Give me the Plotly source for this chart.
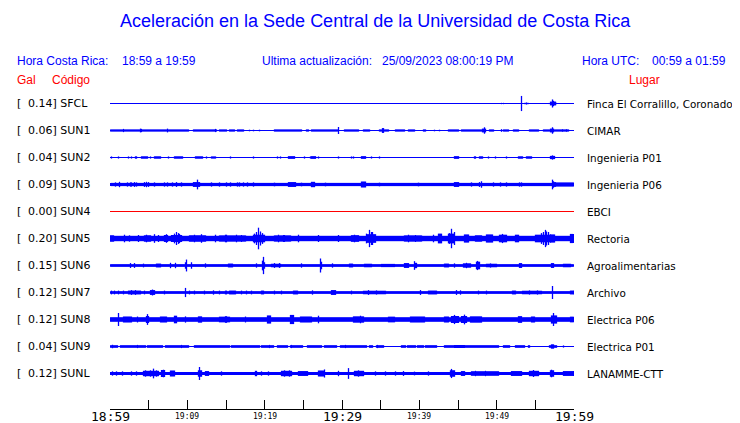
import plotly.graph_objects as go

# ---------------- data ----------------
stations = ["SFCL", "SUN1", "SUN2", "SUN3", "SUN4", "SUN5", "SUN6", "SUN7", "SUN8", "SUN9", "SUNL"]
peak_gal = ["0.14", "0.06", "0.04", "0.09", "0.00", "0.20", "0.15", "0.12", "0.12", "0.04", "0.12"]
places = ["Finca El Corralillo, Coronado", "CIMAR", "Ingenieria P01", "Ingenieria P06", "EBCI",
          "Rectoria", "Agroalimentarias", "Archivo", "Electrica P06", "Electrica P01", "LANAMME-CTT"]

tick_minutes = [0, 5, 10, 15, 20, 25, 30, 35, 40, 45, 50, 55, 60]
label_minutes = [0, 10, 20, 30, 40, 50, 60]
label_text = ["18:59", "19:09", "19:19", "19:29", "19:39", "19:49", "19:59"]
label_big = [True, False, False, True, False, False, True]

# amplitude envelopes: [start minute, end minute, half amplitude (gal)]
sfcl_events = [
    [50.6, 50.6, 0.012], [50.9, 50.9, 0.012], [51.7, 51.7, 0.008],
    [53.2, 53.2, 0.14], [53.6, 54.1, 0.012], [53.9, 53.9, 0.02],
    [56.7, 56.7, 0.01], [57.0, 57.6, 0.035], [57.2, 57.2, 0.075], [57.35, 57.35, 0.05], [57.8, 57.8, 0.012],
]
sun1_events = [
    [0.0, 10.1, 0.02], [10.8, 13.8, 0.02], [14.2, 15.0, 0.02], [15.5, 16.1, 0.02], [16.5, 17.2, 0.02],
    [18.0, 18.0, 0.015], [18.6, 18.6, 0.015], [19.3, 19.3, 0.015], [21.3, 24.8, 0.02], [25.4, 25.7, 0.02],
    [26.0, 29.5, 0.02], [30.3, 32.1, 0.02], [32.8, 33.6, 0.02], [34.8, 36.0, 0.02], [36.9, 38.1, 0.02],
    [38.6, 39.4, 0.02], [40.5, 40.8, 0.02], [42.0, 42.0, 0.015], [42.6, 42.6, 0.015], [43.8, 45.0, 0.02],
    [45.4, 48.5, 0.02], [49.1, 49.6, 0.02], [50.9, 51.5, 0.02], [52.2, 52.8, 0.02], [54.3, 55.4, 0.02],
    [56.0, 59.3, 0.02],
    [1.8, 1.8, 0.03], [3.9, 3.9, 0.035], [4.0, 4.1, 0.03], [7.5, 7.5, 0.035], [13.6, 13.6, 0.03],
    [29.5, 29.5, 0.065], [35.2, 35.4, 0.045], [48.4, 48.4, 0.06], [48.2, 48.6, 0.035], [50.6, 50.6, 0.025],
    [57.2, 57.2, 0.06], [57.0, 57.4, 0.035], [58.5, 58.5, 0.025], [59.0, 59.0, 0.025],
]
sun2_events = [
    [0.13, 0.13, 0.02], [1.08, 1.08, 0.02], [2.37, 2.37, 0.02], [2.8, 2.8, 0.02], [3.3, 3.4, 0.022],
    [4.1, 4.9, 0.022], [5.3, 5.3, 0.02], [5.7, 6.5, 0.022], [7.6, 7.6, 0.02], [8.4, 9.35, 0.022],
    [11.0, 11.9, 0.022], [12.5, 12.5, 0.02], [13.1, 13.6, 0.02], [15.6, 15.6, 0.02], [18.5, 18.5, 0.02],
    [21.6, 21.6, 0.02], [22.0, 22.0, 0.02], [23.1, 23.9, 0.025], [25.2, 25.2, 0.02], [25.9, 25.9, 0.02],
    [26.1, 26.6, 0.025], [26.9, 26.9, 0.02], [29.5, 29.5, 0.02], [31.2, 31.2, 0.02], [31.5, 31.5, 0.02],
    [32.5, 33.1, 0.025], [33.8, 33.8, 0.02], [34.8, 34.8, 0.02], [44.6, 45.0, 0.025], [47.1, 47.3, 0.022],
    [47.8, 48.2, 0.022], [48.9, 48.9, 0.02], [49.8, 49.8, 0.02], [51.3, 51.3, 0.02], [52.8, 53.4, 0.022],
    [53.9, 54.5, 0.022], [57.0, 57.5, 0.03], [57.2, 57.2, 0.04],
]
sun3_events = [
    [0.0, 57.7, 0.03], [57.7, 60.0, 0.038],
    [0.65, 0.65, 0.04], [1.2, 1.2, 0.05], [2.2, 2.2, 0.04], [2.6, 2.6, 0.04], [2.8, 2.8, 0.04],
    [3.2, 3.2, 0.045], [3.4, 3.4, 0.04], [4.4, 4.4, 0.045], [4.7, 4.7, 0.05], [5.0, 5.0, 0.045],
    [5.8, 5.8, 0.04], [7.1, 7.1, 0.04], [7.5, 7.5, 0.04], [8.1, 8.1, 0.04], [8.6, 8.6, 0.045],
    [9.2, 9.2, 0.04], [10.8, 11.6, 0.045], [11.3, 11.3, 0.09], [13.1, 13.1, 0.04], [14.2, 14.2, 0.04],
    [15.1, 15.1, 0.04], [15.6, 15.6, 0.04], [16.5, 16.5, 0.04], [16.8, 16.8, 0.04], [17.2, 17.2, 0.04],
    [17.8, 17.8, 0.04], [18.5, 18.5, 0.04], [21.3, 21.3, 0.035], [23.1, 24.0, 0.045], [24.8, 24.8, 0.035],
    [26.1, 26.5, 0.05], [27.9, 27.9, 0.035], [32.5, 33.0, 0.055], [34.9, 34.9, 0.035], [39.9, 39.9, 0.035],
    [44.6, 45.0, 0.045], [46.8, 46.8, 0.04], [47.8, 47.8, 0.045], [48.1, 48.1, 0.06], [49.6, 49.6, 0.04],
    [50.5, 50.5, 0.04], [51.3, 51.3, 0.04], [52.9, 52.9, 0.04], [53.2, 53.2, 0.04],
    [57.2, 57.2, 0.09], [57.3, 57.4, 0.06], [57.5, 57.6, 0.045],
]
sun4_events = []
sun5_events = [
    [0.0, 60.0, 0.05], [0.0, 0.4, 0.06],
    [1.9, 1.9, 0.07], [2.5, 2.5, 0.06], [3.7, 3.7, 0.065], [4.4, 5.2, 0.06], [4.7, 4.7, 0.07],
    [5.8, 5.8, 0.08], [6.25, 6.25, 0.065], [7.0, 7.5, 0.065], [7.3, 7.3, 0.08],
    [8.0, 9.3, 0.065], [8.3, 8.3, 0.09], [8.6, 8.6, 0.12], [8.8, 8.8, 0.1], [9.0, 9.0, 0.085],
    [10.3, 12.3, 0.06], [10.9, 10.9, 0.07], [11.8, 11.8, 0.08], [13.6, 13.6, 0.07],
    [14.2, 17.5, 0.058], [15.0, 15.0, 0.07], [16.3, 16.3, 0.07], [17.0, 17.0, 0.065],
    [18.5, 20.0, 0.07], [18.7, 18.7, 0.09], [19.0, 19.0, 0.12], [19.2, 19.2, 0.2], [19.4, 19.4, 0.13],
    [19.7, 19.7, 0.1], [21.3, 23.3, 0.058], [21.8, 21.8, 0.07], [22.5, 22.5, 0.065], [24.4, 24.4, 0.07],
    [26.9, 26.9, 0.065], [29.5, 29.5, 0.065], [31.25, 32.1, 0.062], [31.6, 31.6, 0.07],
    [33.2, 34.3, 0.08], [33.2, 33.2, 0.09], [33.6, 33.6, 0.16], [33.8, 33.8, 0.12], [34.0, 34.0, 0.12],
    [34.3, 34.3, 0.08], [38.1, 40.3, 0.058], [38.6, 38.6, 0.07], [39.5, 39.5, 0.065],
    [41.8, 41.8, 0.07], [42.5, 42.9, 0.09], [43.75, 44.6, 0.09], [43.9, 43.9, 0.1], [44.2, 44.2, 0.18],
    [44.5, 44.5, 0.12], [45.9, 46.3, 0.075], [47.2, 48.1, 0.06], [48.7, 49.4, 0.075],
    [50.4, 51.3, 0.07], [50.8, 50.8, 0.085], [52.4, 52.8, 0.07], [55.0, 56.9, 0.07], [55.8, 55.8, 0.1],
    [56.1, 56.1, 0.12], [56.3, 56.3, 0.16], [56.5, 56.5, 0.13], [56.7, 56.7, 0.12], [57.0, 57.0, 0.08],
    [57.1, 57.5, 0.075], [59.5, 60.0, 0.085],
]
sun6_events = [
    [0.0, 60.0, 0.025],
    [2.6, 2.6, 0.045], [3.2, 3.2, 0.045], [4.3, 4.3, 0.035], [6.0, 6.5, 0.035], [7.8, 7.8, 0.05],
    [8.5, 8.5, 0.05], [9.8, 9.8, 0.06], [9.9, 9.9, 0.11], [10.6, 10.6, 0.06], [12.3, 12.3, 0.04],
    [15.3, 15.9, 0.035], [19.0, 19.0, 0.04], [19.7, 19.7, 0.09], [19.8, 19.8, 0.16], [20.0, 20.0, 0.06],
    [20.9, 22.0, 0.032], [21.3, 21.3, 0.045], [21.9, 21.9, 0.045], [24.8, 24.8, 0.04],
    [27.2, 27.2, 0.13], [27.3, 27.4, 0.07], [28.8, 28.8, 0.04], [31.0, 31.4, 0.035], [32.9, 33.8, 0.032],
    [35.1, 36.8, 0.03], [38.1, 38.6, 0.045], [39.4, 39.4, 0.08], [39.5, 39.6, 0.05], [43.3, 43.8, 0.035],
    [44.6, 44.6, 0.04], [45.7, 46.6, 0.04], [46.1, 46.1, 0.05], [47.4, 47.8, 0.07], [47.5, 47.5, 0.085],
    [48.7, 50.0, 0.032], [49.2, 49.2, 0.04], [52.9, 53.2, 0.045], [57.1, 57.3, 0.045], [58.6, 59.5, 0.032],
]
sun7_events = [
    [0.0, 60.0, 0.025],
    [0.2, 0.2, 0.035], [0.6, 0.6, 0.035], [1.1, 1.1, 0.035], [1.7, 1.7, 0.035], [2.4, 3.9, 0.035],
    [2.8, 2.8, 0.045], [3.3, 3.3, 0.045], [4.5, 4.5, 0.035], [5.3, 5.8, 0.045], [5.5, 5.5, 0.055],
    [7.0, 7.0, 0.035], [9.7, 9.7, 0.085], [10.3, 10.3, 0.035], [10.9, 10.9, 0.035], [12.2, 12.2, 0.035],
    [13.4, 13.4, 0.04], [14.2, 14.2, 0.035], [15.0, 15.0, 0.035], [15.5, 16.2, 0.035], [17.0, 17.0, 0.035],
    [17.6, 17.6, 0.035], [18.3, 18.3, 0.035], [19.6, 19.8, 0.035], [21.3, 21.3, 0.035], [22.2, 22.2, 0.035],
    [23.7, 24.3, 0.035], [26.2, 26.2, 0.04], [28.7, 29.1, 0.045], [31.2, 31.2, 0.035], [32.8, 35.6, 0.032],
    [33.4, 33.4, 0.045], [34.5, 34.5, 0.04], [40.1, 40.1, 0.045], [41.2, 42.2, 0.035], [44.8, 44.8, 0.045],
    [45.3, 45.3, 0.04], [47.6, 47.6, 0.035], [48.7, 48.7, 0.035], [52.0, 52.4, 0.035], [53.4, 55.8, 0.032],
    [54.2, 54.2, 0.04], [55.3, 55.3, 0.04], [57.2, 57.2, 0.12], [59.5, 59.9, 0.035],
]
sun8_events = [
    [0.0, 60.0, 0.042],
    [1.1, 1.1, 0.12], [1.7, 2.8, 0.055], [3.6, 3.6, 0.055], [4.7, 5.0, 0.065], [4.8, 4.8, 0.1],
    [6.5, 7.3, 0.055], [8.4, 8.6, 0.07], [9.7, 9.7, 0.058], [11.4, 11.8, 0.058], [14.2, 15.5, 0.052],
    [15.0, 15.0, 0.062], [17.5, 17.5, 0.055], [20.4, 20.7, 0.075], [23.3, 23.7, 0.085], [24.6, 26.1, 0.055],
    [26.9, 26.9, 0.07], [31.5, 32.8, 0.058], [32.4, 32.4, 0.07], [36.0, 36.8, 0.052], [38.8, 40.7, 0.055],
    [43.3, 43.8, 0.055], [44.2, 45.0, 0.065], [44.6, 44.6, 0.085], [45.5, 46.1, 0.065], [45.8, 45.8, 0.09],
    [46.6, 48.1, 0.058], [52.8, 53.2, 0.062], [54.5, 54.9, 0.055], [57.1, 57.8, 0.075], [57.3, 57.3, 0.12],
    [59.5, 60.0, 0.052],
]
sun9_events = [
    [0.0, 1.0, 0.024], [1.3, 4.6, 0.024], [4.9, 6.8, 0.024], [7.2, 10.2, 0.024], [10.9, 15.4, 0.024],
    [15.7, 19.3, 0.024], [19.6, 21.2, 0.024], [21.6, 22.9, 0.024], [23.4, 24.9, 0.024], [25.5, 27.4, 0.024],
    [27.8, 29.3, 0.024], [29.8, 33.2, 0.024], [33.5, 34.0, 0.024], [34.4, 35.4, 0.024], [37.7, 38.2, 0.024],
    [38.5, 39.5, 0.024], [39.8, 40.5, 0.024], [40.8, 41.3, 0.024], [41.5, 42.2, 0.024], [43.3, 50.2, 0.024],
    [44.6, 45.8, 0.028], [50.9, 51.6, 0.024], [52.4, 53.6, 0.024], [54.1, 54.3, 0.024], [56.8, 57.0, 0.024],
    [57.1, 57.3, 0.04], [57.5, 57.8, 0.024], [58.6, 58.6, 0.02],
    [0.3, 0.3, 0.032], [3.5, 3.5, 0.03], [9.3, 9.3, 0.03], [20.6, 20.6, 0.03], [23.5, 23.5, 0.03],
    [30.5, 30.5, 0.03], [34.6, 34.6, 0.03],
]
sunl_events = [
    [0.0, 60.0, 0.028],
    [0.3, 0.3, 0.04], [0.8, 0.8, 0.04], [1.6, 1.6, 0.04], [2.8, 2.8, 0.04], [3.4, 3.4, 0.04],
    [4.3, 6.3, 0.05], [4.6, 4.6, 0.06], [5.3, 5.3, 0.06], [5.6, 5.6, 0.09], [6.0, 6.0, 0.06],
    [6.7, 7.1, 0.065], [6.9, 6.9, 0.07], [7.8, 8.4, 0.055], [11.6, 11.6, 0.12], [11.4, 11.8, 0.06],
    [12.3, 12.7, 0.045], [14.4, 14.4, 0.04], [18.8, 19.0, 0.05], [19.6, 19.6, 0.04], [20.5, 20.5, 0.04],
    [22.2, 23.5, 0.05], [22.6, 22.6, 0.06], [23.2, 23.2, 0.06], [24.4, 25.6, 0.045], [26.9, 27.8, 0.055],
    [27.7, 27.7, 0.075], [29.5, 29.5, 0.05], [30.8, 30.8, 0.1], [31.6, 32.8, 0.05], [32.1, 32.1, 0.06],
    [34.3, 34.3, 0.04], [35.6, 35.6, 0.04], [36.9, 36.9, 0.04], [38.0, 38.0, 0.045], [39.4, 39.4, 0.035],
    [41.2, 41.2, 0.04], [44.0, 44.6, 0.06], [44.2, 44.2, 0.085], [45.5, 45.9, 0.045], [46.8, 50.2, 0.042],
    [47.3, 47.3, 0.05], [48.6, 48.6, 0.05], [51.9, 53.2, 0.045], [54.3, 55.4, 0.05], [54.8, 54.8, 0.065],
    [56.9, 57.3, 0.06], [57.1, 57.1, 0.07], [58.6, 60.0, 0.045],
]
station_events = [sfcl_events, sun1_events, sun2_events, sun3_events, sun4_events, sun5_events,
                  sun6_events, sun7_events, sun8_events, sun9_events, sunl_events]

# ---------------- layout constants (page pixels) ----------------
OFF = 8                     # default page body margin
PAGE_W, PAGE_H = 740, 423
W, H = PAGE_W - OFF, PAGE_H - OFF
PLOT_X0, PLOT_X1 = 110, 574   # page px
PLOT_Y0, PLOT_Y1 = 90, 409    # page px
FIRST_BASE_Y = 103.5          # page px (half pixel -> crisp 1px baseline)
L, R = PLOT_X0 - OFF, PAGE_W - PLOT_X1
T, B = PLOT_Y0 - OFF, PAGE_H - PLOT_Y1
PX_PER_GAL = 54.0
SPACING = 0.5               # gal between trace baselines
BLUE = "#0000FF"
RED = "#FF0000"

plot_w = PLOT_X1 - PLOT_X0
plot_h = PLOT_Y1 - PLOT_Y0
y_hi = (FIRST_BASE_Y - PLOT_Y0) / PX_PER_GAL
y_lo = y_hi - plot_h / PX_PER_GAL


def px_to_paper_x(px):
    return (px - PLOT_X0) / plot_w


def py_to_paper_y(py):
    return (PLOT_Y1 - py) / plot_h


N_COLS = plot_w
DT = 60.0 / N_COLS

fig = go.Figure()

for i, (name, events) in enumerate(zip(stations, station_events)):
    base = -SPACING * i
    color = RED if name == "SUN4" else BLUE
    fig.add_trace(go.Scatter(x=[0, 60], y=[base, base], mode="lines",
                             line=dict(color=color, width=1), hoverinfo="skip",
                             showlegend=False, cliponaxis=False))
    xs, ys = [], []
    for k in range(N_COLS):
        t = (k + 0.5) * DT
        amp = 0.0
        for t0, t1, a in events:
            if t0 - DT / 2 <= t <= t1 + DT / 2:
                amp = max(amp, a)
        if amp > 0:
            xs += [t, t, None]
            ys += [base - amp, base + amp, None]
    if xs:
        fig.add_trace(go.Scatter(x=xs, y=ys, mode="lines",
                                 line=dict(color=color, width=1.3), hoverinfo="skip",
                                 showlegend=False, cliponaxis=False))

LEFT_FONT = dict(family="DejaVu Sans", size=11, color="black")
RIGHT_FONT = dict(family="DejaVu Sans", size=10.4, color="black")
ann = []
for i, (name, g, place) in enumerate(zip(stations, peak_gal, places)):
    yv = -SPACING * i
    ann.append(dict(x=px_to_paper_x(15), y=yv, xref="paper", yref="y", text="[",
                    showarrow=False, xanchor="left", yanchor="middle", font=LEFT_FONT))
    ann.append(dict(x=px_to_paper_x(26), y=yv, xref="paper", yref="y", text=f"{g}] {name}",
                    showarrow=False, xanchor="left", yanchor="middle", font=LEFT_FONT))
    ann.append(dict(x=px_to_paper_x(585), y=yv, xref="paper", yref="y", text=place,
                    showarrow=False, xanchor="left", yanchor="middle", font=RIGHT_FONT))

for m, txt, big in zip(label_minutes, label_text, label_big):
    ann.append(dict(x=m, y=py_to_paper_y(416), xref="x", yref="paper", text=txt, showarrow=False,
                    xanchor="center", yanchor="middle",
                    font=dict(family="DejaVu Sans Mono", size=13 if big else 8, color="black")))

HEAD_FONT = dict(family="Liberation Sans, Arial", size=12, color=BLUE)
RED_FONT = dict(family="Liberation Sans, Arial", size=12, color=RED)
header = [
    (15, 61, "Hora Costa Rica:", HEAD_FONT),
    (120, 61, "18:59 a 19:59", HEAD_FONT),
    (260, 61, "Ultima actualización:", HEAD_FONT),
    (380, 61, "25/09/2023 08:00:19 PM", HEAD_FONT),
    (580, 61, "Hora UTC:", HEAD_FONT),
    (650, 61, "00:59 a 01:59", HEAD_FONT),
    (15, 80, "Gal", RED_FONT),
    (50, 80, "Código", RED_FONT),
    (627, 80, "Lugar", RED_FONT),
]
for px, py, txt, f in header:
    ann.append(dict(x=px_to_paper_x(px), y=py_to_paper_y(py), xref="paper", yref="paper", text=txt,
                    showarrow=False, xanchor="left", yanchor="middle", font=f))

ann.append(dict(x=px_to_paper_x(375), y=py_to_paper_y(21), xref="paper", yref="paper",
                text="Aceleración en la Sede Central de la Universidad de Costa Rica",
                showarrow=False, xanchor="center", yanchor="middle",
                font=dict(family="Liberation Sans, Arial", size=18, color=BLUE)))

fig.update_layout(
    width=W, height=H,
    margin=dict(l=L, r=R, t=T, b=B, pad=0),
    paper_bgcolor="white", plot_bgcolor="white",
    annotations=ann,
    showlegend=False,
    xaxis=dict(range=[0, 60], tickvals=tick_minutes, ticks="inside", ticklen=9, tickwidth=1,
               tickcolor="black", showticklabels=False, showline=True, linecolor="black",
               linewidth=1, showgrid=False, zeroline=False, fixedrange=True),
    yaxis=dict(range=[y_lo, y_hi], visible=False, showgrid=False, zeroline=False, fixedrange=True),
)

fig.write_html("out.html", config={"displayModeBar": False})
